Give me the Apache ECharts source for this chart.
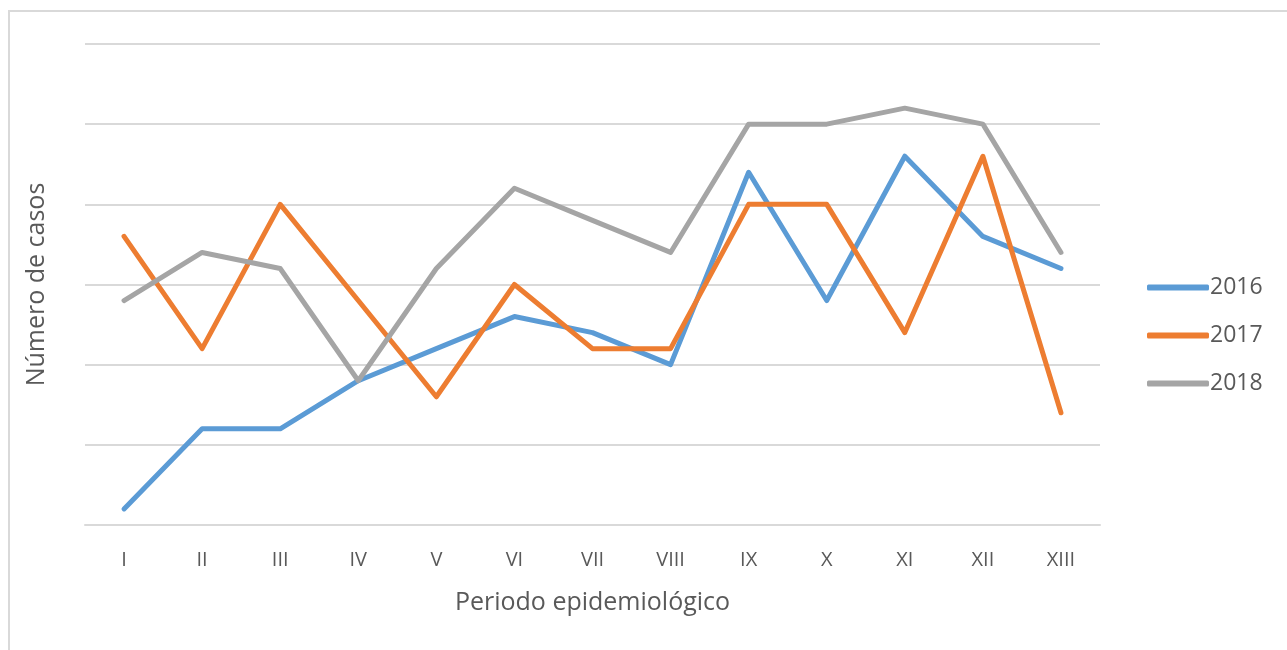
<!DOCTYPE html>
<html><head><meta charset="utf-8">
<script src="https://cdn.jsdelivr.net/npm/echarts@6/dist/echarts.min.js"></script>
<style>
html,body{margin:0;padding:0;background:#fff;}
#frame{position:absolute;left:8px;top:10px;width:1300px;height:700px;border-left:2px solid #d9d9d9;border-top:2px solid #d9d9d9;}
#c{position:absolute;left:0;top:0;width:1287px;height:650px;}
</style></head>
<body>
<div id="frame"></div>
<div id="c"></div>
<script>
const categories = ['I','II','III','IV','V','VI','VII','VIII','IX','X','XI','XII','XIII'];
const s2016 = [2,12,12,18,22,26,24,20,44,28,46,36,32];
const s2017 = [36,22,40,28,16,30,22,22,40,40,24,46,14];
const s2018 = [28,34,32,18,32,42,38,34,50,50,52,50,34];
const seriesNames = ['2016','2017','2018'];
const colors = ['#5B9BD5','#ED7D31','#A5A5A5'];
const font = 'Open Sans';
const chart = echarts.init(document.getElementById('c'));
const mk = (name, data, i) => ({
  name, type:'line', data, symbol:'none', color: colors[i],
  lineStyle:{width:5, color: colors[i], cap:'round', join:'round'}
});
chart.setOption({
  animation:false,
  grid:{left:85, right:187, top:44, bottom:125},
  legend:{
    orient:'vertical', left:1142, top:271, itemGap:25,
    icon:'roundRect', itemWidth:62, itemHeight:6,
    textStyle:{color:'#595959', fontSize:23, fontFamily:font, padding:[0,0,0,-4]},
    data: seriesNames
  },
  xAxis:{
    type:'category', data:categories, boundaryGap:true,
    axisLine:{lineStyle:{color:'#d9d9d9', width:2}},
    axisTick:{show:false},
    axisLabel:{color:'#595959', fontSize:20, fontFamily:font, margin:25},
    name:'Periodo epidemiológico', nameLocation:'middle', nameGap:65,
    nameTextStyle:{color:'#595959', fontSize:25, fontFamily:font}
  },
  yAxis:{
    type:'value', min:0, max:60, interval:10,
    axisLine:{show:false}, axisTick:{show:false},
    axisLabel:{show:false},
    splitLine:{lineStyle:{color:'#d9d9d9', width:2}},
    name:'Número de casos', nameLocation:'middle', nameGap:36,
    nameTextStyle:{color:'#595959', fontSize:25, fontFamily:font}
  },
  series:[mk(seriesNames[0], s2016, 0), mk(seriesNames[1], s2017, 1), mk(seriesNames[2], s2018, 2)]
});
</script>
</body></html>
